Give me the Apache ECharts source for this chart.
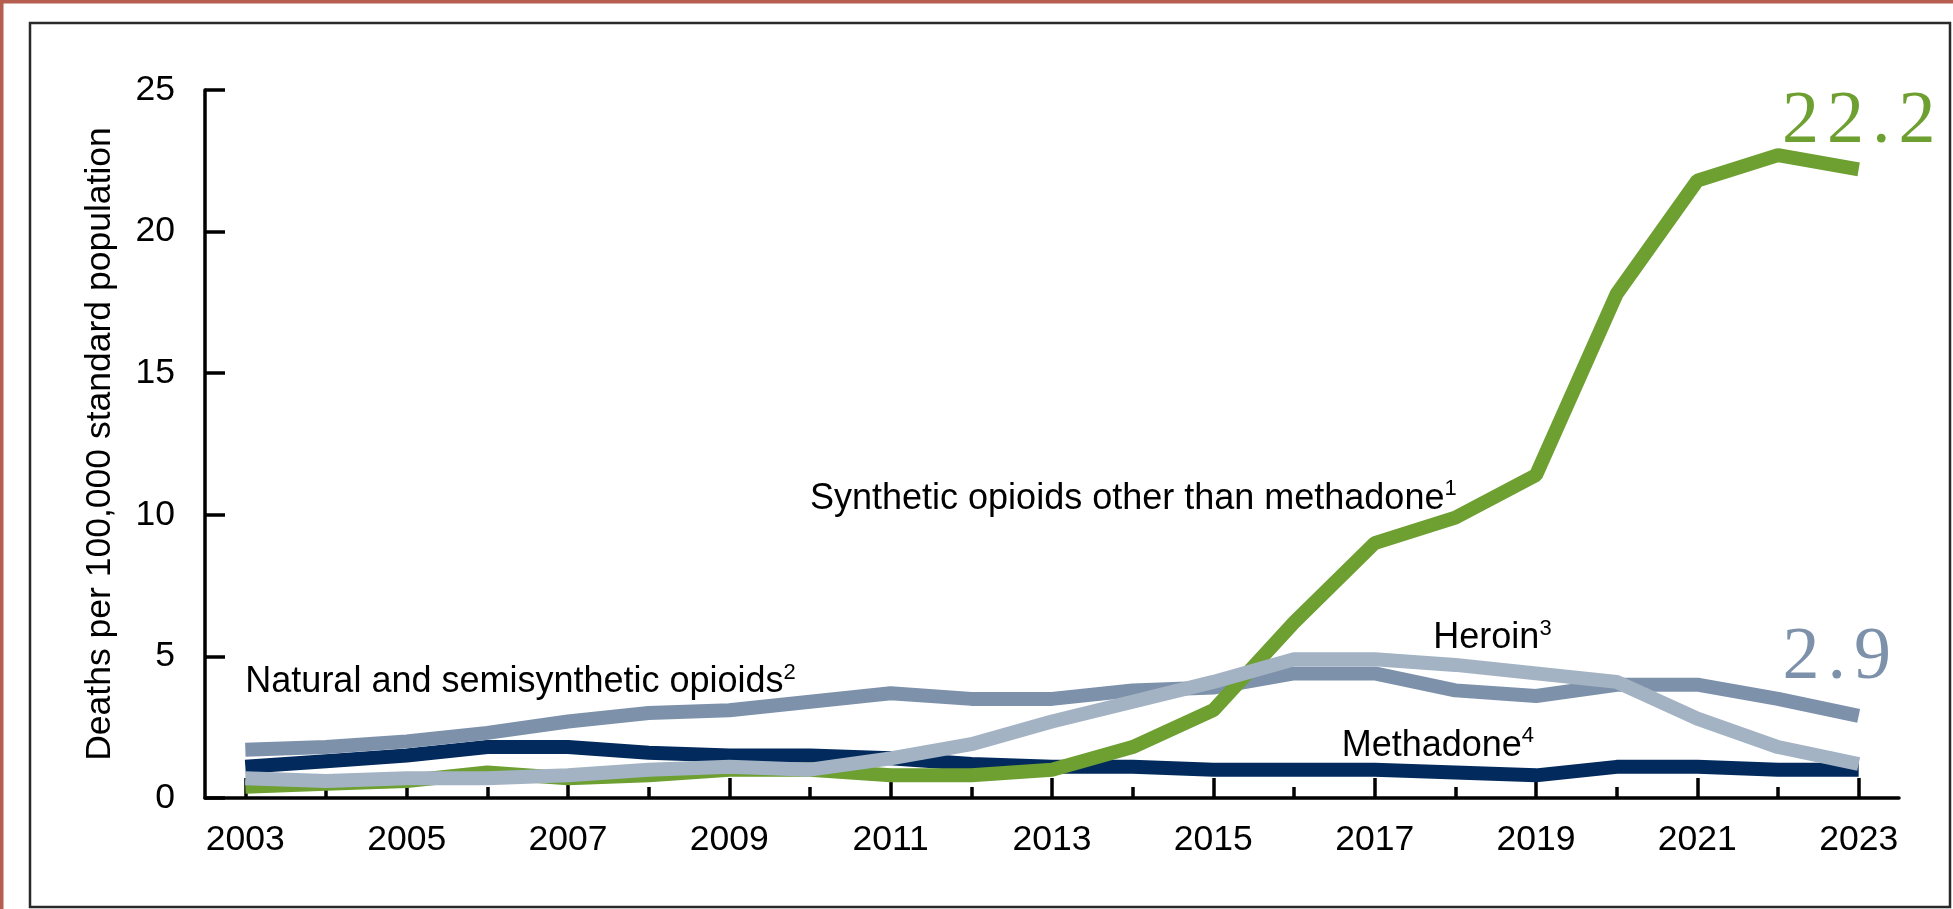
<!DOCTYPE html>
<html>
<head>
<meta charset="utf-8">
<script src="https://cdn.jsdelivr.net/npm/echarts@6/dist/echarts.min.js"></script>
<style>
html,body{margin:0;padding:0;background:#fff;}
#chart{width:1953px;height:909px;}
</style>
</head>
<body>
<div id="chart"></div>
<script>
var years = ['2003','2004','2005','2006','2007','2008','2009','2010','2011','2012','2013','2014','2015','2016','2017','2018','2019','2020','2021','2022','2023'];
var synthetic = [0.4,0.5,0.6,0.9,0.7,0.8,1.0,1.0,0.8,0.8,1.0,1.8,3.1,6.2,9.0,9.9,11.4,17.8,21.8,22.7,22.2];
var natural   = [1.7,1.8,2.0,2.3,2.7,3.0,3.1,3.4,3.7,3.5,3.5,3.8,3.9,4.4,4.4,3.8,3.6,4.0,4.0,3.5,2.9];
var heroin    = [0.7,0.6,0.7,0.7,0.8,1.0,1.1,1.0,1.4,1.9,2.7,3.4,4.1,4.9,4.9,4.7,4.4,4.1,2.8,1.8,1.2];
var methadone = [1.1,1.3,1.5,1.8,1.8,1.6,1.5,1.5,1.4,1.2,1.1,1.1,1.0,1.0,1.0,0.9,0.8,1.1,1.1,1.0,1.0];
var yTicks = [0,5,10,15,20,25];
var yTitle = 'Deaths per 100,000 standard population';
var labelSynthetic = ['Synthetic opioids other than methadone','1'];
var labelNatural = ['Natural and semisynthetic opioids','2'];
var labelHeroin = ['Heroin','3'];
var labelMethadone = ['Methadone','4'];
// annotation anchors in data space: [category index, value]
var anchorSynthetic = [7, 10.57];
var anchorNatural = [0, 4.08];
var anchorHeroin = [15, 5.63];
var anchorMethadone = [14, 1.85];

var C_GREEN = '#6d9f31', C_NAT = '#7d91ab', C_HER = '#a3b3c4', C_METH = '#022a5c';
var SANS = 'Liberation Sans, Arial, sans-serif';
var SERIF = 'Liberation Serif, Times New Roman, serif';
var LW = 14;

function spaced(str){
  return str.split('').map(function(ch){return '{d|' + ch + '}';}).join('');
}
function lastLabel(arr, color, opts){
  var last = arr.length - 1;
  return arr.map(function(v, i){
    if (i !== last) return v;
    return {
      value: v,
      label: Object.assign({
        show: true,
        position: 'top',
        formatter: function(p){ return spaced(String(p.value)); },
        rich: { d: { fontFamily: SERIF, fontSize: 74, color: color, padding: [0, 4] } }
      }, opts)
    };
  });
}
function annot(lbl, anchor, dx){
  return {
    symbol: 'rect', symbolSize: 0, silent: true,
    data: [{
      coord: anchor,
      label: {
        show: true, position: 'inside', align: 'left', verticalAlign: 'middle',
        offset: [dx || 0, 0],
        formatter: '{a|' + lbl[0] + '}{s|' + lbl[1] + '}',
        rich: {
          a: { fontFamily: SANS, fontSize: 36, color: '#000', lineHeight: 42 },
          s: { fontFamily: SANS, fontSize: 22, color: '#000', lineHeight: 32, verticalAlign: 'top' }
        }
      }
    }]
  };
}
function lineSeries(name, data, color, z, mp){
  return { name: name, type: 'line', data: data, symbol: 'circle', symbolSize: 0,
    showSymbol: true, showAllSymbol: true, itemStyle: { color: color },
    lineStyle: { color: color, width: LW, cap: 'butt' }, z: z, markPoint: mp };
}

var chart = echarts.init(document.getElementById('chart'), null, {renderer: 'canvas'});
chart.setOption({
  animation: false,
  backgroundColor: '#fff',
  graphic: [
    { type: 'rect', shape: {x: 0, y: 0, width: 1953, height: 3.5}, style: {fill: '#b65f50'}, z: 100 },
    { type: 'rect', shape: {x: 0, y: 0, width: 3.5, height: 909}, style: {fill: '#b65f50'}, z: 100 },
    { type: 'rect', shape: {x: 30, y: 23, width: 1920, height: 884}, style: {fill: 'none', stroke: '#2a2a2a', lineWidth: 2.5}, z: 100 }
  ],
  grid: { left: 205, right: 54, top: 90, bottom: 111, containLabel: false },
  xAxis: [
    {
      type: 'category', data: years, position: 'bottom', boundaryGap: true,
      axisLine: { show: true, lineStyle: { color: '#000', width: 3.5 } },
      axisTick: { show: true, inside: true, length: 20, alignWithLabel: true,
                  interval: function(i){ return i % 2 === 0; },
                  lineStyle: { color: '#000', width: 3.5 } },
      axisLabel: { interval: function(i){ return i % 2 === 0; }, margin: 24,
                   fontFamily: SANS, fontSize: 35.5, color: '#000' },
      splitLine: { show: false }
    },
    {
      type: 'category', data: years, position: 'bottom', boundaryGap: true,
      axisLine: { show: false },
      axisTick: { show: true, inside: true, length: 11, alignWithLabel: true, interval: 0,
                  lineStyle: { color: '#000', width: 3.5 } },
      axisLabel: { show: false },
      splitLine: { show: false }
    }
  ],
  yAxis: {
    type: 'value', min: yTicks[0], max: yTicks[yTicks.length - 1], interval: 5,
    name: yTitle, nameLocation: 'middle', nameGap: 87,
    nameTextStyle: { fontFamily: SANS, fontSize: 35.5, color: '#000' },
    axisLine: { show: true, lineStyle: { color: '#000', width: 3.5 } },
    axisTick: { show: true, inside: true, length: 20, lineStyle: { color: '#000', width: 3.5 } },
    axisLabel: { margin: 30, fontFamily: SANS, fontSize: 35.5, color: '#000' },
    splitLine: { show: false }
  },
  series: [
    lineSeries('Methadone', methadone, C_METH, 2, annot(labelMethadone, anchorMethadone, -33)),
    lineSeries('Natural and semisynthetic opioids', lastLabel(natural, C_NAT, { distance: 20, offset: [-22, 0] }), C_NAT, 3, annot(labelNatural, anchorNatural, 0)),
    lineSeries('Synthetic opioids other than methadone', lastLabel(synthetic, C_GREEN, { distance: 10 }), C_GREEN, 4, annot(labelSynthetic, anchorSynthetic, 0)),
    lineSeries('Heroin', heroin, C_HER, 5, annot(labelHeroin, anchorHeroin, -22))
  ]
});
</script>
</body>
</html>
